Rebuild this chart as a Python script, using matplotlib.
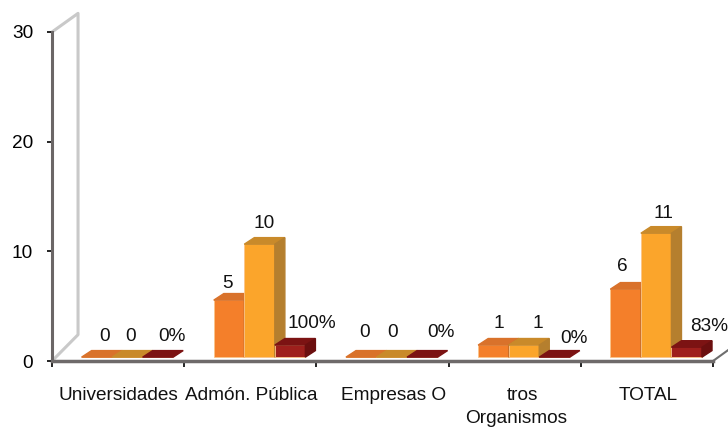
import matplotlib
matplotlib.use('Agg')
from matplotlib import pyplot as plt
from matplotlib.patches import Polygon
import numpy as np

categories = ['Universidades', 'Admón. Pública', 'Empresas O', 'tros', 'TOTAL']
# bar heights
serie1 = [0, 5.2, 0, 1.1, 6.2]
serie2 = [0, 10.3, 0, 1.1, 11.3]
serie3 = [0, 1.1, 0, 0, 0.9]
labels1 = ['0', '5', '0', '1', '6']
labels2 = ['0', '10', '0', '1', '11']
labels3 = ['0%', '100%', '0%', '0%', '83%']
yticks = [0, 10, 20, 30]

colors = ['#F47F2A', '#FBA52B', '#9E1F1C']
tops = ['#D9722B', '#C98A2A', '#7C1313']
sides = ['#C96E28', '#B57F2E', '#6B0F0F']

# label offsets in pixels from the top of each bar
off1 = [(8, 21), (-2, 17), (3, 25), (5, 22), (-3, 23)]
off2 = [(3, 21), (5, 21), (1, 25), (14, 22), (7, 20)]
off3 = [(14, 21), (22, 22), (19, 25), (19, 19), (22, 21)]
label_shift = [0, 1, 11, 8, 1]

plt.rcParams['font.family'] = ['Liberation Sans', 'DejaVu Sans']
fig = plt.figure(figsize=(7.28, 4.28), dpi=100)
ax = fig.add_axes([52 / 728, 1 - 361 / 428, 661 / 728, 329 / 428])
ax.set_xlim(0, 5)
ax.set_ylim(0, 30)

base = 0.35
w = 0.231
dx = 0.076
dy = 0.6
x = np.arange(len(categories)) + 0.5 + 0.07

# back wall and floor edge
wall = '#C9C9C9'
ax.plot([0, 0.197, 0.197, 0], [30, 31.7, 2.4, 0], color=wall, lw=2.2, clip_on=False, zorder=1)
ax.plot([5, 5.115], [0, 1.0], color='#6E6E6E', lw=1.5, clip_on=False, zorder=1)

for k, vals in enumerate([serie1, serie2, serie3]):
    xs = x + (k - 1) * w
    ax.bar(xs, vals, w, bottom=base, color=colors[k], edgecolor='#FBC58A', lw=0.6, zorder=3 + k)
    for xi, v in zip(xs, vals):
        l = xi - w / 2
        r = xi + w / 2
        t = base + v
        ax.add_patch(Polygon([(l, t), (l + dx, t + dy), (r + dx, t + dy), (r, t)], color=tops[k], zorder=3 + k))
        if v > 0:
            ax.add_patch(Polygon([(r, base), (r + dx, base + dy), (r + dx, t + dy), (r, t)], color=sides[k], zorder=3 + k))

for k, (vals, labs, off) in enumerate(zip([serie1, serie2, serie3], [labels1, labels2, labels3], [off1, off2, off3])):
    for i in range(len(vals)):
        ax.annotate(labs[i], (x[i] + (k - 1) * w, base + vals[i]), xytext=(off[i][0] * 0.72, off[i][1] * 0.72),
                    textcoords='offset points', ha='center', va='center', fontsize=13.7, color='#111111',
                    annotation_clip=False, zorder=10)

for s in ['top', 'right']:
    ax.spines[s].set_visible(False)
ax.spines['left'].set_color('#6B6666')
ax.spines['left'].set_linewidth(2.2)
ax.spines['bottom'].set_color('#6E6A6A')
ax.spines['bottom'].set_linewidth(2.5)

ax.set_yticks(yticks)
ax.set_xticks(range(6))
ax.set_xticklabels([])
ax.tick_params(axis='y', length=3.6, width=1.2, pad=10, labelsize=13.7, color='black')
ax.tick_params(axis='x', length=4, width=1.2, color='black')

for i, name in enumerate(categories):
    ax.annotate(name, (i + 0.5, 0), xytext=(label_shift[i] * 0.72, -34.5 * 0.72), textcoords='offset points',
                ha='center', va='center', fontsize=13.7, color='#111111', annotation_clip=False)
ax.annotate('Organismos', (3.5, 0), xytext=(1, -57.5 * 0.72), textcoords='offset points',
            ha='center', va='center', fontsize=13.7, color='#111111', annotation_clip=False)

fig.savefig('out.png', dpi=100)
